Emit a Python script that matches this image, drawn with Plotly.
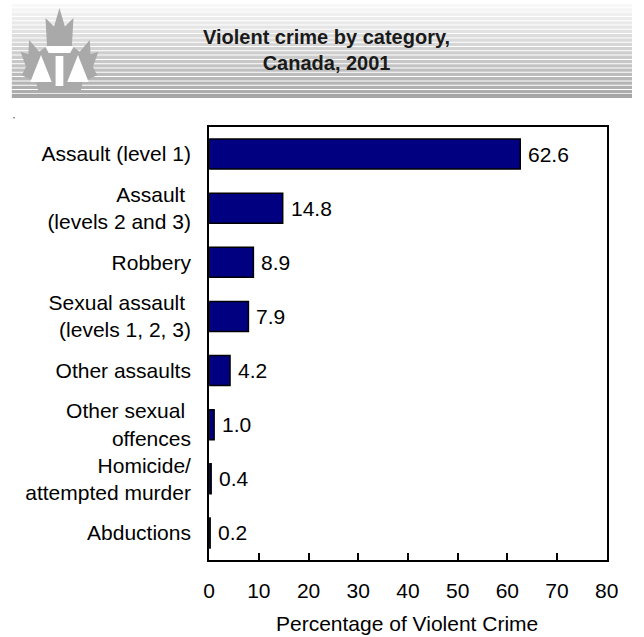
import plotly.graph_objects as go

W, H = 644, 637

categories = [
    "Assault (level 1)",
    "Assault <br>(levels 2 and 3)",
    "Robbery",
    "Sexual assault <br>(levels 1, 2, 3)",
    "Other assaults",
    "Other sexual <br>offences",
    "Homicide/<br>attempted murder",
    "Abductions",
]
values = [62.6, 14.8, 8.9, 7.9, 4.2, 1.0, 0.4, 0.2]
x_ticks = [0, 10, 20, 30, 40, 50, 60, 70, 80]
title_lines = ["Violent crime by category,", "Canada, 2001"]
x_title = "Percentage of Violent Crime"

FONT = "Liberation Sans, Arial, sans-serif"
TFONT = "Liberation Sans, Arial, sans-serif"


def px(x, y):
    return x / W, 1 - y / H


def poly(points):
    parts = []
    for i, (x, y) in enumerate(points):
        u, v = px(x, y)
        parts.append(("M" if i == 0 else "L") + f"{u:.5f},{v:.5f}")
    return " ".join(parts) + " Z"


fig = go.Figure()
fig.add_trace(go.Bar(
    x=values,
    y=categories,
    orientation="h",
    marker=dict(color="#000080", line=dict(color="#000000", width=1.5)),
    hoverinfo="skip",
))

shapes = []
# banner stripes
n = 21
y0 = 4.0
for i in range(n):
    g = int(248 - (i / (n - 1)) * 75)
    top = y0 + i * 4.3
    x0u, y0v = px(6, top)
    x1u, y1v = px(W, top + 3.3)
    shapes.append(dict(type="rect", xref="paper", yref="paper", x0=x0u, x1=x1u,
                       y0=y1v, y1=y0v, fillcolor=f"rgb({g},{g},{g})",
                       line=dict(width=0), layer="below"))
bx0, by0 = px(6, 94)
bx1, by1 = px(W, 98)
shapes.append(dict(type="rect", xref="paper", yref="paper", x0=bx0, x1=bx1,
                   y0=by1, y1=by0, fillcolor="#a6a6a6", line=dict(width=0), layer="below"))

# maple leaf logo
cx, top, hw, hh = 55, 8, 40, 84
right = [(0, 0), (0.14, 0.22), (0.36, 0.12), (0.32, 0.45), (0.52, 0.52), (0.78, 0.38),
         (0.80, 0.55), (1.0, 0.52), (0.86, 0.70), (0.97, 0.80), (0.6, 0.88), (0.55, 0.98)]
left = [(-u, v) for (u, v) in reversed(right[1:])]
leaf = [(cx + u * hw, top + v * hh) for (u, v) in right + left]
shapes.append(dict(type="path", xref="paper", yref="paper", path=poly(leaf),
                   fillcolor="#a9a9a9", line=dict(width=0), layer="below"))
white = dict(fillcolor="#ffffff", line=dict(width=0), layer="below", xref="paper", yref="paper", type="path")
shapes.append(dict(white, path=poly([(cx - 15, 46), (cx + 15, 46), (cx + 11, 53), (cx - 11, 53)])))
shapes.append(dict(white, path=poly([(cx - 4, 56), (cx + 4, 56), (cx + 4, 86), (cx - 4, 86)])))
shapes.append(dict(white, path=poly([(cx - 19, 55), (cx - 30, 82), (cx - 8, 82)])))
shapes.append(dict(white, path=poly([(cx + 19, 55), (cx + 8, 82), (cx + 30, 82)])))
# tiny dot
dx0, dy0 = px(7.5, 117)
dx1, dy1 = px(9, 118.5)
shapes.append(dict(type="rect", xref="paper", yref="paper", x0=dx0, x1=dx1, y0=dy1, y1=dy0,
                   fillcolor="#777777", line=dict(width=0)))

annotations = []
u, v = px(330, 50)
annotations.append(dict(text="<b>" + "<br>".join(title_lines) + "</b>", x=u, y=v,
                        xref="paper", yref="paper", xanchor="center", yanchor="middle",
                        align="center", showarrow=False,
                        font=dict(family=TFONT, size=20, color="#1a1a1a")))
u, v = px(413, 637)
annotations.append(dict(text=x_title, x=u, y=v, xref="paper", yref="paper",
                        xanchor="center", yanchor="bottom", showarrow=False,
                        font=dict(family=FONT, size=21, color="#000000")))
# value labels
for val, cat in zip(values, categories):
    annotations.append(dict(text=f"{val:.1f}", x=val, y=cat, xref="x", yref="y",
                            xanchor="left", yanchor="middle", xshift=6, showarrow=False,
                            font=dict(family=FONT, size=21, color="#000000")))

fig.update_layout(
    width=W, height=H,
    autosize=False,
    margin=dict(l=0, r=0, t=0, b=0),
    paper_bgcolor="white", plot_bgcolor="white",
    showlegend=False,
    bargap=0.445,
    shapes=shapes,
    annotations=annotations,
    xaxis=dict(
        domain=[209 / W, 618 / W],
        range=[0, 80],
        tickvals=x_ticks,
        ticktext=[str(t) for t in x_ticks],
        ticks="inside", ticklen=7, tickwidth=2, tickcolor="black",
        showline=True, linecolor="black", linewidth=2, mirror=True,
        showgrid=False, zeroline=False,
        tickfont=dict(family=FONT, size=21, color="black"),
        ticklabelstandoff=11,
        fixedrange=True,
    ),
    yaxis=dict(
        domain=[1 - 560 / H, 1 - 127 / H],
        autorange="reversed",
        showline=True, linecolor="black", linewidth=2, mirror=True,
        showgrid=False, zeroline=False, ticks="",
        tickfont=dict(family=FONT, size=21, color="black"),
        ticklabelstandoff=12,
        fixedrange=True,
    ),
)

fig.write_html(
    "out.html",
    config={"responsive": False, "displayModeBar": False, "staticPlot": True},
    post_script="document.body.style.margin='0';document.body.style.overflow='hidden';",
)
